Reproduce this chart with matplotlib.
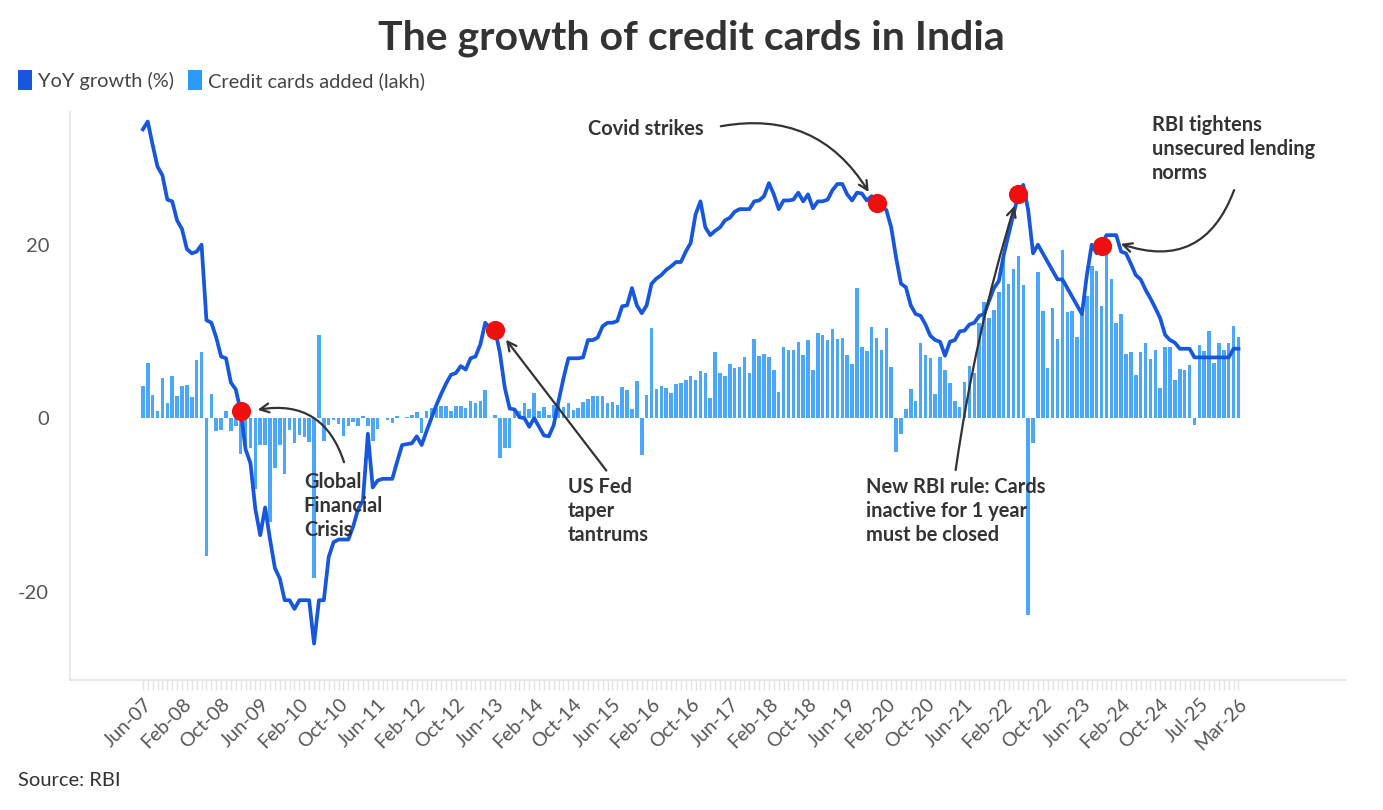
import matplotlib.pyplot as plt
from matplotlib.patches import Patch

plt.rcParams['font.family'] = ['Lato', 'DejaVu Sans']

# x-axis labels (every 8th month, as in the source chart)
tick_labels = ['Jun-07', 'Feb-08', 'Oct-08', 'Jun-09', 'Feb-10', 'Oct-10', 'Jun-11',
               'Feb-12', 'Oct-12', 'Jun-13', 'Feb-14', 'Oct-14', 'Jun-15', 'Feb-16',
               'Oct-16', 'Jun-17', 'Feb-18', 'Oct-18', 'Jun-19', 'Feb-20', 'Oct-20',
               'Jun-21', 'Feb-22', 'Oct-22', 'Jun-23', 'Feb-24', 'Oct-24', 'Jul-25', 'Mar-26']

# YoY growth of credit cards outstanding (%)
yoy = [33.3, 34.2, 31.5, 29, 28, 25.2, 25, 22.8,
       21.8, 19.5, 19, 19.2, 20, 11.3, 11, 9.3,
       7.1, 6.9, 4.1, 3.3, 0.8, -3.6, -5.2, -10.5,
       -13.5, -10.3, -14, -17.3, -18.5, -21, -21, -22,
       -21, -21, -21, -26, -21, -21, -16, -14.3,
       -14, -14, -14, -12.5, -10.5, -9.5, -1.8, -8,
       -7.2, -7, -7, -7, -5, -3.1, -3, -2.9,
       -2.1, -3.1, -1.5, 0, 1.5, 2.8, 4, 5,
       5.2, 6, 5.6, 6.9, 7.1, 8.5, 11, 10.3,
       10.2, 7.5, 3.5, 1.1, 1, 0.1, 0, -1,
       0, -1, -2, -2.1, -0.8, 2, 4.6, 6.9,
       6.9, 6.9, 7, 9, 9, 9.3, 10.6, 11,
       11, 11.2, 12.9, 13, 15, 13, 12.1, 13,
       15.5, 16.1, 16.5, 17.1, 17.5, 18, 18, 19.2,
       20.2, 23.5, 25, 22, 21.1, 21.6, 22, 22.8,
       23.1, 23.8, 24.1, 24.1, 24.1, 25, 25.1, 25.6,
       27.1, 25.8, 24.1, 25.1, 25.1, 25.2, 26, 25,
       25.8, 24.2, 25, 25, 25.2, 26.3, 27, 27,
       25.8, 25.1, 26, 25.9, 25.1, 25.6, 24.8, 24.5,
       24, 22, 18.5, 15.5, 15.1, 13, 12, 11.8,
       10.8, 9.5, 9, 8.8, 7.2, 8.8, 9, 10,
       10.1, 10.8, 11, 11.8, 12, 13.5, 15, 15.8,
       18.8, 21.2, 23.5, 25.8, 26.9, 24, 19, 20,
       19, 18, 17, 16, 16, 15, 14, 13,
       12, 16.5, 20, 19, 19.9, 21.1, 21.1, 21.1,
       19.2, 19, 17.8, 16.5, 16, 14.8, 13.8, 12.7,
       11.5, 9.6, 9, 8.7, 8, 8, 8, 7,
       7, 7, 7, 7, 7, 7, 7, 8, 8]

# credit cards added in the month (lakh)
added = [3.75, 6.3, 2.7, 0.85, 4.6, 1.8, 4.8, 2.6, 3.7, 3.8, 2.4, 6.7, 7.6, -15.9, 2.8, -1.45,
         -1.4, 0.8, -1.45, -0.9,
         -4.1, -3.7, -3.5, -8.2, -3.1, -3.1, -12, -5.8, -3.1, -6.5, -1.4, -2.9,
         -2, -2.2, -2.8, -18.4, 9.6, -2.6, -0.85, -0.2, -0.7, -2.1, -0.9, -0.5,
         -0.9, 0.2, -0.9, -2.6, -1.3, 0, -0.2, -0.6, 0.2, 0, 0.1, 0.35,
         0.7, -1.7, 0.8, 1.2, 1.2, 1.4, 1.4, 0.8, 1.4, 1.4, 1.2,
         2, 1.7, 2, 3.2, 0, 0.35, -4.6, -3.5, -3.4, 0.85, 0.8, 1.7,
         1.0, 2.9, 0.8, 1.3, 0.4, 1.5, 1.4, 1.3, 1.7, 0.9,
         1.2, 1.9, 2.2, 2.5, 2.5, 2.5, 1.8, 1.9, 1.5, 3.6, 3.3, 1.1,
         4.3, -4.2, 2.7, 10.4, 3.4, 3.75, 3.5, 2.9, 3.9, 4, 4.4, 4.8,
         4.4, 5.4, 5.2, 2.3, 7.6, 5.2, 4.8, 6.2, 5.8, 5.9, 7, 5.2,
         9.1, 7.2, 7.4, 7, 5.5, 3, 8.2, 7.8, 7.9, 8.8, 7.3,
         9, 5.6, 9.8, 9.6, 9, 10.3, 9.1, 9.2, 7.3, 6.2, 15, 8.2,
         7.7, 10.5, 9.2, 7.9, 10.4, 5.9, -3.9, -1.8, 1.1, 3.4,
         2, 8.7, 7.3, 6.9, 2.8, 7, 5.5, 4, 2, 1.3, 4.2, 6,
         5.2, 11, 13.4, 11.6, 12.5, 14.6, 18.7, 15.5, 17.2, 18.7, 15.4,
         -22.7, -2.9, 16.8, 12.4, 5.8, 12.7, 9.1, 19.4, 12.2, 12.3, 9.4, 12.1,
         14.1, 17.5, 17, 12.9, 19.1, 16, 11, 12, 7.4, 7.6, 5,
         7.6, 8.7, 6.8, 7.9, 3.5, 8.2, 8.2, 4.4, 5.7, 5.5, 6.1, -0.8,
         8.4, 7.7, 10.1, 6.3, 8.7, 7.9, 8.7, 10.6, 9.3]

# months that get a red marker
events = [20, 72, 150, 179, 196]

line_col = '#1657de'
bar_col = '#4aa7fb'
txt_col = '#333333'
axis_col = '#e3e3e3'

fig = plt.figure(figsize=(13.83, 8.10), dpi=100)
ax = fig.add_axes([0.0506, 0.1605, 0.922, 0.7012])

idx = list(range(len(yoy)))
ax.bar(idx, added, width=0.72, color=bar_col, zorder=2)
ax.plot(idx, yoy, color=line_col, linewidth=2.7, solid_joinstyle='round', zorder=3)
ax.scatter(events, [yoy[i] for i in events], s=190, color='#ee0f0f', zorder=4, linewidths=0)

ax.set_xlim(-14.9, 245.8)
ax.set_ylim(-30.2, 35.3)

ax.set_xticks(list(range(0, len(yoy), 8)))
ax.set_xticklabels(tick_labels, rotation=45, ha='right', rotation_mode='anchor',
                   fontsize=14, color='#555555')
ax.set_xticks(idx, minor=True)
ax.tick_params(axis='x', which='both', length=7, width=1, color=axis_col, pad=4)
ax.set_yticks([-20, 0, 20])
ax.set_yticklabels(['-20', '0', '20'], fontsize=14.5, color='#555555')
ax.tick_params(axis='y', length=0, pad=15)

for s in ['top', 'right']:
    ax.spines[s].set_visible(False)
for s in ['left', 'bottom']:
    ax.spines[s].set_color(axis_col)
    ax.spines[s].set_linewidth(1.2)

# annotations
ann = dict(fontsize=14.4, fontweight='bold', color=txt_col, linespacing=1.25, va='top', ha='left')
ax.text(32.9, -6.2, 'Global\nFinancial\nCrisis', **ann)
ax.text(86.9, -6.8, 'US Fed\ntaper\ntantrums', **ann)
ax.text(91, 34.5, 'Covid strikes', **ann)
ax.text(147.9, -6.8, 'New RBI rule: Cards\ninactive for 1 year\nmust be closed', **ann)
ax.text(206.3, 34.9, 'RBI tightens\nunsecured lending\nnorms', **ann)

arr = dict(arrowstyle='->', color=txt_col, lw=1.6, mutation_scale=16)
ax.annotate('', xy=(22.9, 0.9), xytext=(41.3, -5.4),
            arrowprops=dict(connectionstyle='arc3,rad=0.45', **arr))
ax.annotate('', xy=(73.9, 9.3), xytext=(95.1, -6.3),
            arrowprops=dict(connectionstyle='arc3,rad=0', **arr))
ax.annotate('', xy=(148.7, 25.8), xytext=(117.6, 33.6),
            arrowprops=dict(connectionstyle='arc3,rad=-0.35', **arr))
ax.annotate('', xy=(178.4, 24.8), xytext=(166.1, -6.3),
            arrowprops=dict(connectionstyle='arc3,rad=-0.04', **arr))
ax.annotate('', xy=(199.4, 20.2), xytext=(223.3, 26.6),
            arrowprops=dict(connectionstyle='arc3,rad=-0.5', **arr))

fig.text(0.5, 0.953, 'The growth of credit cards in India', ha='center', va='center',
         fontsize=29.5, fontweight='bold', color=txt_col)

handles = [Patch(facecolor=line_col, label='YoY growth (%)'),
           Patch(facecolor='#2b9bfa', label='Credit cards added (lakh)')]
fig.legend(handles=handles, loc='center left', bbox_to_anchor=(0.0, 0.901), ncol=2,
           frameon=False, fontsize=14.4, handlelength=0.7, handleheight=1.15,
           handletextpad=0.3, columnspacing=0.7, labelcolor='#444444')

fig.text(0.013, 0.037, 'Source: RBI', fontsize=14.5, color=txt_col, va='center')

fig.savefig('out.png', dpi=100)
